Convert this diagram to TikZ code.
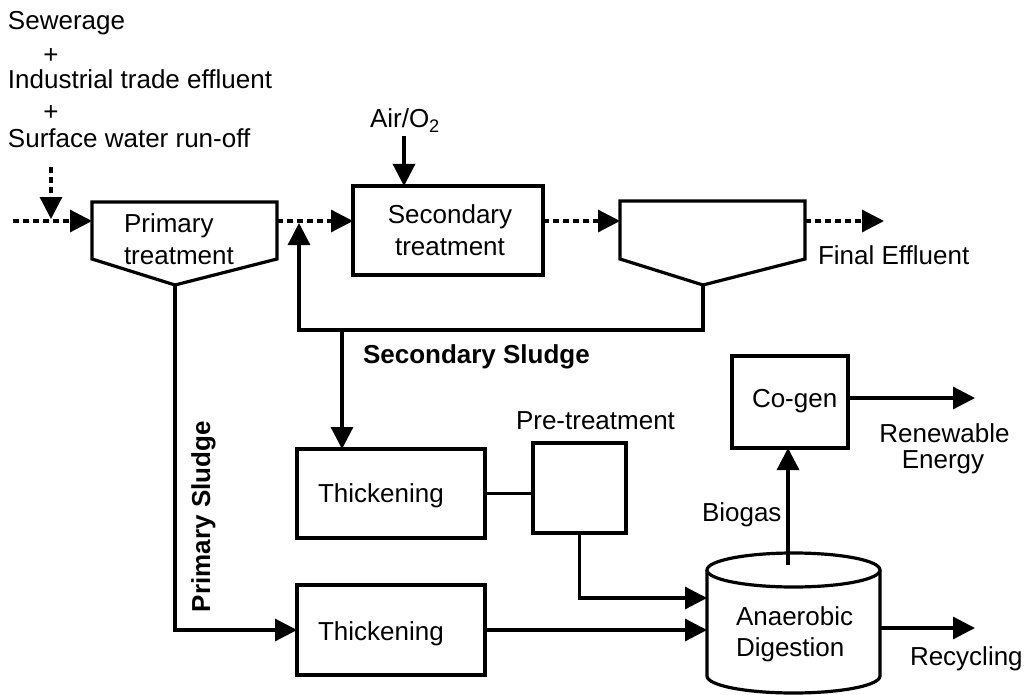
\documentclass[tikz,border=0pt]{standalone}
\usepackage{fontspec}
\setmainfont{Liberation Sans}
\usetikzlibrary{arrows.meta}
\begin{document}
\begin{tikzpicture}[x=1pt,y=-1pt,
  every node/.style={inner sep=0pt, outer sep=0pt},
  lbl/.style={font=\fontsize{26}{30}\selectfont},
  blbl/.style={font=\fontsize{26}{30}\selectfont\bfseries},
  ln/.style={line width=3.2pt, line join=miter},
  arr/.style={ln, -{Triangle[length=22pt,width=22pt]}},
  dotarr/.style={arr, dash pattern=on 6pt off 4pt},
  box/.style={draw, line width=3.2pt, rectangle, fill=white},
]
\useasboundingbox (0,0) rectangle (1024,695);

% input texts
\node[lbl, anchor=base west, text height=19pt] (t1) at (8,30) {Sewerage};
\node[lbl, anchor=base, text height=15pt, text depth=0pt] (p1) at (51,64) {+};
\node[lbl, anchor=base west, text height=19pt] (t2) at (8,89) {Industrial trade effluent};
\node[lbl, anchor=base, text height=15pt, text depth=0pt] (p2) at (51,121) {+};
\node[lbl, anchor=base west, text height=19pt] (t3) at (8,148) {Surface water run-off};

% primary treatment (pentagon)
\draw[ln, fill=white] (92,202) -- (277,202) -- (277,259) -- (175,285) -- (92,259) -- cycle;
\coordinate (prim-in) at (92,221);
\coordinate (prim-out) at (277,221);
\coordinate (prim-bot) at (175,285);
\node[lbl, anchor=base west] (ptx1) at (124,232) {Primary};
\node[lbl, anchor=base west] (ptx2) at (124,264) {treatment};

% secondary treatment
\node[box, minimum width=190pt, minimum height=89pt] (sec) at (448,230.5) {};
\node[lbl, anchor=base] (stx1) at (450,223) {Secondary};
\node[lbl, anchor=base] (stx2) at (450,255) {treatment};
\node[lbl, anchor=base west] (air) at (370,128) {Air/O\textsubscript{2}};
\coordinate (airs) at (404,136);

% clarifier
\draw[ln, fill=white] (620,201) -- (805,201) -- (805,259) -- (703,285) -- (620,259) -- cycle;
\coordinate (clar-in) at (620,221);
\coordinate (clar-out) at (805,221);
\coordinate (clar-bot) at (703,285);
\node[lbl, anchor=base west] (fetx) at (818,264) {Final Effluent};

% boxes
\node[box, minimum width=188pt, minimum height=89pt] (th1) at (391,493.5) {};
\node[lbl, anchor=base west] at (318,502) {Thickening};
\node[box, minimum width=188pt, minimum height=90pt] (th2) at (391,630) {};
\node[lbl, anchor=base west] at (318,640) {Thickening};
\node[box, minimum width=93pt, minimum height=90pt] (pre) at (579.5,488) {};
\node[lbl, anchor=base] (pretx) at (595.5,429) {Pre-treatment};
\node[box, minimum width=116pt, minimum height=92pt] (cog) at (790,402) {};
\node[lbl, anchor=base west] at (752,407) {Co-gen};

% anaerobic digester (cylinder)
\draw[ln, fill=white] (707,570) -- (707,676) arc[start angle=180, end angle=360, x radius=86.5pt, y radius=17pt] -- (880,570);
\draw[ln, fill=white] (793.5,570) ellipse [x radius=86.5pt, y radius=17pt];
\node[minimum width=173pt, minimum height=140pt] (ad) at (793.5,623) {};
\node[lbl, anchor=base west] (adtx1) at (736,625) {Anaerobic};
\node[lbl, anchor=base west] (adtx2) at (736,656) {Digestion};

% free ends
\coordinate (src) at (13,221);
\coordinate (srcv) at (51,167);
\coordinate (srcvt) at (51,219);
\coordinate (fe) at (884,221);
\coordinate (rectip) at (299,223);
\coordinate (ss) at (342,330);
\coordinate (bg) at (788,565);
\coordinate (re) at (975,398);
\coordinate (rc) at (975,628);

% flow connectors
\draw[dotarr] (src) -- (prim-in);
\draw[dotarr] (srcv) -- (srcvt);
\draw[dotarr] (prim-out) -- (prim-out -| sec.west);
\draw[dotarr] (sec.east |- clar-in) -- (clar-in);
\draw[dotarr] (clar-out) -- (fe);
\draw[arr] (airs) -- (airs |- sec.north);
\draw[arr] (clar-bot) -- ++(0,45) -| (rectip);
\draw[arr] (ss) -- (ss |- th1.north);
\draw[arr] (prim-bot) |- (th2.west);
\draw[ln] (th1.east) -- (th1.east -| pre.west);
\draw[arr] (pre.south) |- (ad.west |- 0,598);
\draw[arr] (th2.east) -- (th2.east -| ad.west);
\draw[arr] (bg) -- (bg |- cog.south);
\draw[arr] (cog.east |- re) -- (re);
\draw[arr] (ad.east |- rc) -- (rc);

% labels
\node[blbl, anchor=base west] (sslbl) at (363,363) {Secondary Sludge};
\node[blbl, anchor=base west, rotate=90] (pslbl) at (210,612) {Primary Sludge};
\node[lbl, anchor=base west] (bglbl) at (702,521) {Biogas};
\node[lbl, anchor=base] (relbl1) at (944.5,442) {Renewable};
\node[lbl, anchor=base] (relbl2) at (943,468) {Energy};
\node[lbl, anchor=base west] (rclbl) at (910,665) {Recycling};
\end{tikzpicture}
\end{document}
